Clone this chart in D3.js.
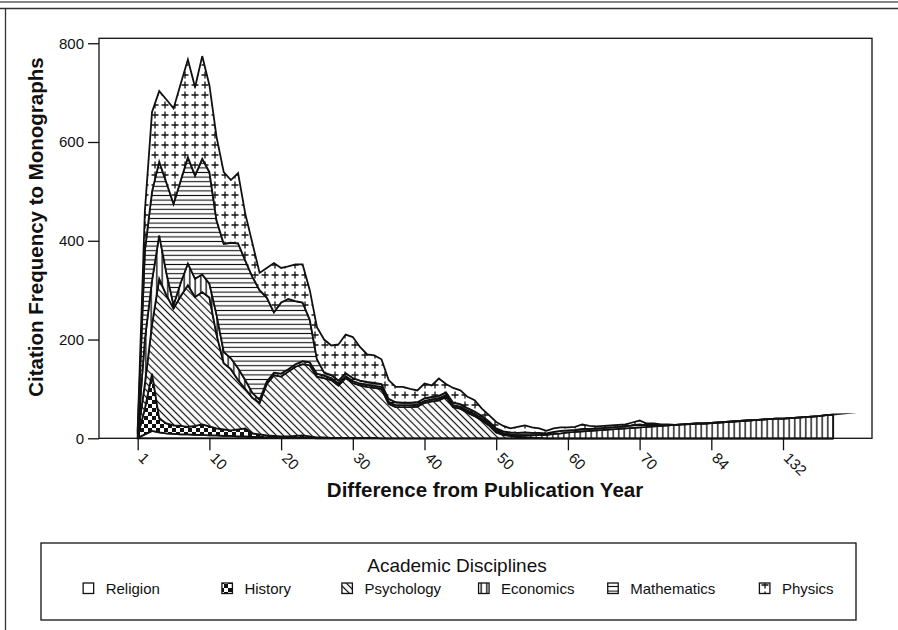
<!DOCTYPE html>
<html><head><meta charset="utf-8">
<script src="https://cdn.jsdelivr.net/npm/d3@7"></script>
<style>
body{margin:0;background:#fff}
svg{display:block}
text{font-family:"Liberation Sans",Arial,Helvetica,sans-serif;fill:#111}
</style>
</head><body>
<svg id="chart" width="898" height="630"></svg>
<script>
// ---------------- data ----------------
const seriesNames = ["Religion","History","Psychology","Economics","Mathematics","Physics"];
const religion = [
 1,8,15,12,10,9,8,8,7,7,
 6,6,5,5,4,4,3,3,2,2,
 1,1,1,1,1,0,0,0,0,0,
 0,0,0,0,0,0,0,0,0,0,
 0,0,0,0,0,0,0,0,0,0,
 0,0,0,0,0,0,0,0,0,0,
 0,0,0,0,0,0,0,0,0,0,
 0,0,0,0,0,0,0,0,0,0,
 0,0,0,0,0,0,0,0,0,0,
 0,0,0,0,0,0,0,0];
const history = [
 3,52,116,28,20,17,17,15,18,21,
 18,14,13,11,14,16,7,5,4,3,
 3,3,4,5,3,2,2,1,1,1,
 1,1,1,1,0,0,0,0,0,0,
 0,0,0,0,0,0,0,0,0,0,
 0,0,0,0,0,0,0,0,0,0,
 0,0,0,0,0,0,0,0,0,0,
 0,0,0,0,0,0,0,0,0,0,
 0,0,0,0,0,0,0,0,0,0,
 0,0,0,0,0,0,0,0];
const psychology = [
 4,50,99,283,260,237,263,287,261,268,
 261,190,134,124,100,80,72,64,104,123,
 121,131,140,144,144,123,120,117,106,121,
 111,106,103,101,100,70,63,63,63,64,
 72,75,77,84,63,60,52,45,36,26,
 12,7,5,3,2,1,1,0,0,0,
 0,0,0,0,0,0,0,0,0,0,
 0,0,0,0,0,0,0,0,0,0,
 0,0,0,0,0,0,0,0,0,0,
 0,0,0,0,0,0,0,0];
const economics = [
 2,90,90,88,45,7,27,44,37,36,
 28,40,23,22,24,18,10,6,5,5,
 6,5,5,6,6,6,5,4,4,4,
 4,4,4,4,4,4,4,4,4,4,
 4,4,4,4,4,4,4,4,4,4,
 4,3,3,3,4,5,6,7,9,10,
 12,13,14,15,16,17,18,19,20,21,
 22,23,24,25,26,27,28,29,30,30,
 31,32,33,34,35,36,37,38,39,40,
 40,41,42,43,44,45,47,48];
const mathematics = [
 4,180,180,149,183,205,207,215,209,234,
 226,191,219,234,253,242,235,222,170,122,
 144,142,128,119,86,29,6,6,6,6,
 6,6,6,6,6,6,6,5,5,5,
 5,5,5,5,5,5,5,5,5,4,
 4,4,4,5,6,5,4,3,4,5,
 4,4,5,4,4,4,4,4,4,5,
 6,3,2,1,1,0,0,0,0,0,
 0,0,0,0,0,0,0,0,0,0,
 0,0,0,0,0,0,0,0];
const physics = [
 6,80,161,143,168,193,196,198,179,208,
 176,169,145,127,142,95,68,35,60,100,
 70,66,74,77,60,65,67,60,73,78,
 83,68,56,56,50,38,31,32,28,24,
 30,23,35,17,30,28,23,23,15,13,
 13,11,8,12,14,11,9,5,7,7,
 6,6,9,6,4,4,4,4,4,6,
 8,4,4,2,1,0,0,0,0,0,
 0,0,0,0,0,0,0,0,0,0,
 0,0,0,0,0,0,0,0];
const yTickValues = [0,200,400,600,800];
const xTickIndex = [0,10,20,30,40,50,60,70,80,90];
const xTickLabels = ["1","10","20","30","40","50","60","70","84","132"];

// ---------------- setup ----------------
const svg = d3.select("#chart");
svg.append("rect").attr("width",898).attr("height",630).attr("fill","#fff");

// page decoration
svg.append("line").attr("x1",0).attr("x2",898).attr("y1",2).attr("y2",2).attr("stroke","#888").attr("stroke-width",2);
svg.append("line").attr("x1",0).attr("x2",898).attr("y1",8.5).attr("y2",8.5).attr("stroke","#333").attr("stroke-width",1.3);
svg.append("line").attr("x1",5.5).attr("x2",5.5).attr("y1",8.5).attr("y2",630).attr("stroke","#333").attr("stroke-width",1.3);

const defs = svg.append("defs");
function pattern(id,w,h,draw,transform){
  const p = defs.append("pattern").attr("id",id).attr("patternUnits","userSpaceOnUse")
    .attr("width",w).attr("height",h);
  if(transform) p.attr("patternTransform",transform);
  p.append("rect").attr("width",w).attr("height",h).attr("fill","#fff");
  draw(p);
}
pattern("p0",4,4,()=>{});
pattern("p1",8,8,p=>{
  p.append("rect").attr("width",4).attr("height",4).attr("fill","#111");
  p.append("rect").attr("x",4).attr("y",4).attr("width",4).attr("height",4).attr("fill","#111");
});
pattern("p2",5,5,p=>p.append("line").attr("x1",2.5).attr("x2",2.5).attr("y1",-1).attr("y2",6).attr("stroke","#111").attr("stroke-width",1.2),"rotate(-45)");
pattern("p3",5.5,5,p=>p.append("line").attr("x1",2.75).attr("x2",2.75).attr("y1",-1).attr("y2",6).attr("stroke","#111").attr("stroke-width",1.4));
pattern("p4",6,4.6,p=>p.append("line").attr("x1",-1).attr("x2",7).attr("y1",2.3).attr("y2",2.3).attr("stroke","#111").attr("stroke-width",1.1));
pattern("p5",10,10,p=>p.append("path").attr("d","M5,1.5V8.5M1.5,5H8.5").attr("stroke","#111").attr("stroke-width",1.3));

const frame = {left:99, right:872, top:38.3, bottom:438.3};
const lastIdx = religion.length - 1;
const x = d3.scaleLinear().domain([0,lastIdx]).range([137.7,833.2]);
const y = d3.scaleLinear().domain([0,810]).range([frame.bottom, frame.top]);

const seriesArrays = [religion,history,psychology,economics,mathematics,physics];
const rows = religion.map((_,i)=>{
  const r = {idx:i};
  seriesNames.forEach((n,k)=>r[n]=seriesArrays[k][i]);
  return r;
});
const stacked = d3.stack().keys(seriesNames)(rows);

const area = d3.area()
  .x(d=>x(d.data.idx))
  .y0(d=>y(d[0]))
  .y1(d=>y(d[1]));

const gAreas = svg.append("g");
gAreas.selectAll("path").data(stacked).join("path")
  .attr("d",area)
  .attr("fill",(d,k)=>`url(#p${k})`)
  .attr("stroke","#111")
  .attr("stroke-width",1.8)
  .attr("stroke-linejoin","miter");

// tapered outline spike continuing the last top segment (as in the source rendering)
const topLayer = stacked[stacked.length-1];
const ax = x(lastIdx-1), ay = y(topLayer[lastIdx-1][1]);
const bx = x(lastIdx), by = y(topLayer[lastIdx][1]);
const segLen = Math.hypot(bx-ax, by-ay), ux=(bx-ax)/segLen, uy=(by-ay)/segLen;
const spikeLen = 24;
svg.append("path")
  .attr("d",`M${bx},${by-1}L${bx+ux*spikeLen},${by+uy*spikeLen}L${bx},${by+1}Z`)
  .attr("fill","#222");

// frame
svg.append("rect").attr("x",frame.left).attr("y",frame.top)
  .attr("width",frame.right-frame.left).attr("height",frame.bottom-frame.top)
  .attr("fill","none").attr("stroke","#111").attr("stroke-width",1.3);

// y axis
const yAxis = svg.append("g").attr("transform",`translate(${frame.left},0)`)
  .call(d3.axisLeft(y).tickValues(yTickValues).tickSize(11).tickPadding(4));
yAxis.select(".domain").remove();
yAxis.selectAll(".tick line").attr("stroke","#111").attr("stroke-width",1.3);
yAxis.selectAll(".tick text").attr("font-size",15).attr("font-family",null).attr("fill","#111");

// x axis
const xAxis = svg.append("g").attr("transform",`translate(0,${frame.bottom})`)
  .call(d3.axisBottom(x).tickValues(xTickIndex).tickFormat((d,i)=>xTickLabels[i]).tickSize(12));
xAxis.select(".domain").remove();
xAxis.selectAll(".tick line").attr("stroke","#111").attr("stroke-width",1.3);
xAxis.selectAll(".tick text")
  .attr("font-size",15).attr("font-family",null).attr("fill","#111")
  .attr("text-anchor","start")
  .attr("y",0).attr("dy","0.35em")
  .attr("transform","translate(3,17) rotate(45)");

// axis titles
svg.append("text").attr("transform","translate(43,227) rotate(-90)")
  .attr("text-anchor","middle").attr("font-weight","bold").attr("font-size",20.5)
  .text("Citation Frequency to Monographs");
svg.append("text").attr("x",485).attr("y",497)
  .attr("text-anchor","middle").attr("font-weight","bold").attr("font-size",20.5)
  .text("Difference from Publication Year");

// legend
svg.append("rect").attr("x",41).attr("y",543).attr("width",815).attr("height",77)
  .attr("fill","none").attr("stroke","#111").attr("stroke-width",1.3);
svg.append("text").attr("x",457).attr("y",572).attr("text-anchor","middle")
  .attr("font-size",19).text("Academic Disciplines");
const colW = 135, colMid = 459;
seriesNames.forEach((n,k)=>{
  const g = svg.append("g");
  const t = g.append("text").attr("y",593.5).attr("font-size",15).text(n);
  const tw = t.node().getComputedTextLength();
  const itemW = 10.5 + 12 + tw;
  const cx = colMid + (k-2.5)*colW;
  const x0 = cx - itemW/2;
  g.append("rect").attr("x",x0).attr("y",583).attr("width",10.5).attr("height",10.5)
    .attr("fill",`url(#p${k})`).attr("stroke","#111").attr("stroke-width",1.3);
  t.attr("x",x0+22.5);
});
</script>
</body></html>
